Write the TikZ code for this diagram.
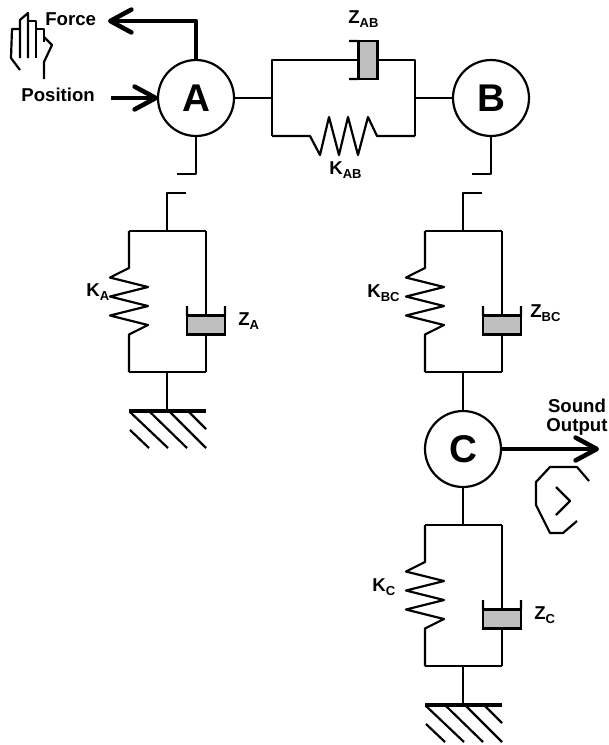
\documentclass[tikz,border=0pt]{standalone}
\usepackage{fontspec}
\setmainfont{Liberation Sans}
\usetikzlibrary{arrows.meta}
\newcommand{\subtxt}[1]{\lower2.4pt\hbox{\fontsize{7.4}{7.4}\selectfont #1}}
\begin{document}
\begin{tikzpicture}[
  x=0.02cm, y=-0.02cm,
  wire/.style={line width=1.25pt, line join=round},
  heavy/.style={line width=2.6pt},
  outarrow/.style={heavy, line join=round, -{Straight Barb[length=12pt, width=13pt, line width=2.6pt, round]}},
  mass/.style={circle, draw, line width=1.25pt, minimum size=1.52cm, inner sep=0pt, outer sep=0pt, font=\fontsize{22}{22}\selectfont\bfseries},
  piston/.style={rectangle, draw, line width=1.25pt, fill=black!25, minimum width=0.76cm, minimum height=0.38cm, inner sep=0pt, outer sep=0pt},
  pistonh/.style={piston, minimum width=0.38cm, minimum height=0.76cm},
  tag/.style={inner sep=0pt, font=\fontsize{10.6}{12.2}\selectfont\bfseries, align=center}
]
  \useasboundingbox (0,0) rectangle (609,745);
  % masses
  \node[mass] (A) at (196,98) {A};
  \node[mass] (B) at (491,98) {B};
  \node[mass] (C) at (463,449) {C};
  % A-B coupling
  \coordinate (abl) at (272,98);
  \coordinate (abr) at (415,98);
  \coordinate (abtl) at (272,60);
  \coordinate (abtr) at (415,60);
  \coordinate (abbl) at (272,136);
  \coordinate (abbr) at (415,136);
  \coordinate (cupt) at (349,41);
  \coordinate (cupb) at (349,79);
  \node[pistonh] (zab) at (368,60) {};
  \draw[wire] (A) -- (abl);
  \draw[wire] (abr) -- (B);
  \draw[wire] (abbl) -- (abtl) -- (zab.west);
  \draw[wire] (zab.east) -- (abtr) -- (abbr);
  \draw[wire] (cupt) -- (zab.north west);
  \draw[wire] (cupb) -- (zab.south west);
  \draw[wire] (abbl) -- (310,136) -- (320,155) -- (329,117) -- (339,155) -- (348,117) -- (358,155) -- (368,117) -- (377,136) -- (abbr);
  % spring and damper units
  \foreach \unit/\dx/\dy in {a/0/0, bc/296/0, c/296/294} {
    \begin{scope}[shift={(\dx,\dy)}]
      \coordinate (top\unit) at (167,231);
      \coordinate (bot\unit) at (167,372);
      \coordinate (tl\unit) at (129,231);
      \coordinate (tr\unit) at (206,231);
      \coordinate (bl\unit) at (129,372);
      \coordinate (br\unit) at (206,372);
      \coordinate (cupl\unit) at (187,306);
      \coordinate (cupr\unit) at (225,306);
      \node[piston] (z\unit) at (206,325) {};
      \draw[wire] (bl\unit) -- (br\unit);
      \draw[wire] (tl\unit) -- (tr\unit);
      \draw[wire] (tl\unit) -- ++(0,37) -- ++(-19,9.5) -- ++(38,9.5) -- ++(-38,9.5) -- ++(38,9.5) -- ++(-38,9.5) -- ++(38,9.5) -- ++(-19,9.5) -- (bl\unit);
      \draw[wire] (tr\unit) -- (z\unit.north);
      \draw[wire] (z\unit.south) -- (br\unit);
      \draw[wire] (cupl\unit) -- (z\unit.north west);
      \draw[wire] (cupr\unit) -- (z\unit.north east);
    \end{scope}
  }
  % open links
  \coordinate (stuba) at (177,174);
  \coordinate (gapa) at (186,193);
  \coordinate (stubb) at (472,174);
  \coordinate (gapb) at (482,193);
  \draw[wire] (A.south) |- (stuba);
  \draw[wire] (gapa) -| (topa);
  \draw[wire] (B.south) |- (stubb);
  \draw[wire] (gapb) -| (topbc);
  \draw[wire] (botbc) -- (C.north);
  \draw[wire] (C.south) -- (topc);
  % ground
  \foreach \unit/\dx/\dy in {a/0/0, c/296/294} {
    \begin{scope}[shift={(\dx,\dy)}]
      \coordinate (gnd\unit) at (167,411);
      \coordinate (gl\unit) at (129,411);
      \coordinate (gr\unit) at (206,411);
      \draw[wire] (bot\unit) -- (gnd\unit);
      \draw[line width=2.6pt] (gl\unit) -- (gr\unit);
      \draw[wire] (130,412) -- (168,448);
      \draw[wire] (150,412) -- (187,448);
      \draw[wire] (170,412) -- (206,448);
      \draw[wire] (189,412) -- (206,429);
      \draw[wire] (130,430) -- (149,448);
    \end{scope}
  }
  % arrows
  \coordinate (forceend) at (108,21);
  \coordinate (posstart) at (111,98);
  \coordinate (soundend) at (599,449);
  \draw[outarrow] (A.north) |- (forceend);
  \draw[outarrow] (posstart) -- (A.west);
  \draw[outarrow] (C.east) -- (soundend);
  % hand
  \draw[wire] (20,70) -- (11,58) -- (12,29) -- (20,29);
  \draw[wire] (20,58) -- (20,20) -- (28,13) -- (28,58);
  \draw[wire] (28,21) -- (36,21) -- (36,58);
  \draw[wire] (36,29) -- (44,29) -- (44,42);
  \draw[wire] (44,79) -- (44,62) -- (52,45) -- (44,37);
  % ear
  \draw[wire] (589,481) -- (577,467) -- (550,467) -- (536,482) -- (536,505) -- (550,533) -- (563,533) -- (577,521);
  \draw[wire] (556,487) -- (570,501) -- (556,515);
  % labels
  \node[tag, anchor=west] (force) at (45,19) {Force};
  \node[tag, anchor=west] (position) at (21,95) {Position};
  \node[tag] (sound) at (577,417) {Sound\\[-1.5pt]Output};
  \node[tag, anchor=west] (zabl) at (348,19) {Z\subtxt{AB}};
  \node[tag, anchor=west] (kabl) at (329,170) {K\subtxt{AB}};
  \node[tag, anchor=west] (kal) at (86,292) {K\subtxt{A}};
  \node[tag, anchor=west] (zal) at (238,321) {Z\subtxt{A}};
  \node[tag, anchor=west] (kbcl) at (367,293) {K\subtxt{BC}};
  \node[tag, anchor=west] (zbcl) at (530,313) {Z\subtxt{BC}};
  \node[tag, anchor=west] (kcl) at (372,587) {K\subtxt{C}};
  \node[tag, anchor=west] (zcl) at (534,615) {Z\subtxt{C}};
\end{tikzpicture}
\end{document}
